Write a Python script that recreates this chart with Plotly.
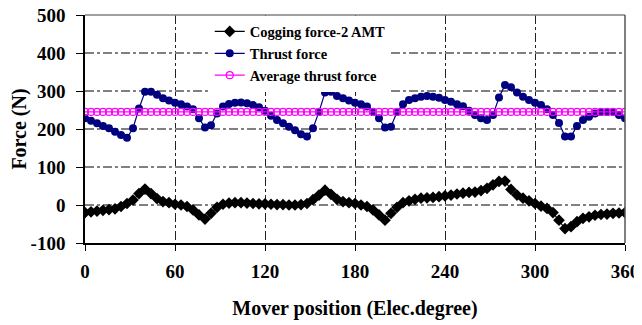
import plotly.graph_objects as go

positions = list(range(0, 361, 4))

cogging = [-20, -18, -16, -14, -12, -10, -4, 4, 13, 30, 42, 30, 17, 9, 6, 2, 0, -4, -13, -26, -37,
           -22, -6, 2, 5, 6, 6, 5, 4, 3, 3,
           2, 1, 1, 0, 0, 1, 4, 14, 26, 39, 28, 15, 9, 6, 4, 0, -4, -13, -26, -40,
           -22, -6, 6, 11, 15, 18, 19, 20, 22, 24,
           26, 29, 31, 33, 34, 38, 44, 53, 62, 63, 41, 26, 18, 11, 4, -3, -9, -20, -40, -62,
           -57, -44, -35, -31, -27, -25, -24, -22, -21, -20]

thrust = [228, 222, 215, 208, 202, 193, 184, 177, 202, 254, 298, 298, 290, 281, 275, 269, 265, 259, 252, 228, 204,
          210, 241, 259, 266, 269, 270, 268, 263, 257, 248,
          235, 224, 215, 206, 197, 186, 180, 202, 245, 296, 298, 287, 281, 275, 269, 265, 259, 245, 228, 204,
          206, 245, 265, 276, 281, 285, 287, 285, 282, 276,
          272, 265, 260, 248, 237, 228, 224, 237, 283, 316, 310, 296, 285, 276, 269, 263, 252, 237, 216, 180,
          180, 208, 224, 232, 241, 245, 245, 245, 237, 228]

average = [245] * len(positions)

names = ["Cogging force-2 AMT", "Thrust force", "Average thrust force"]
x_ticks = [0, 60, 120, 180, 240, 300, 360]
y_ticks = [-100, 0, 100, 200, 300, 400, 500]

FONT = "Liberation Serif, Times New Roman, serif"

fig = go.Figure()
fig.add_trace(go.Scatter(x=positions, y=cogging, name=names[0], mode="lines+markers",
                         line=dict(color="black", width=1.2),
                         marker=dict(symbol="diamond", size=9, color="black")))
fig.add_trace(go.Scatter(x=positions, y=thrust, name=names[1], mode="lines+markers",
                         line=dict(color="#000080", width=1.2),
                         marker=dict(symbol="circle", size=8, color="#000080")))
fig.add_trace(go.Scatter(x=positions, y=average, name=names[2], mode="lines+markers",
                         line=dict(color="#FF00FF", width=1.2),
                         marker=dict(symbol="circle-open", size=7, color="#FF00FF", line=dict(width=1.2))))

fig.update_layout(
    width=642, height=325,
    margin=dict(l=77, r=25, t=7, b=90, autoexpand=False),
    paper_bgcolor="white", plot_bgcolor="white",
    font=dict(family=FONT, size=19, color="black", weight="bold"),
    showlegend=True,
    legend=dict(x=0.231, y=0.9978, xanchor="left", yanchor="top",
                bgcolor="white", borderwidth=0, itemwidth=30,
                font=dict(family=FONT, size=14.5, color="black", weight="bold"),
                tracegroupgap=0),
    xaxis=dict(range=[0, 360], tickvals=x_ticks, ticktext=[str(v) for v in x_ticks],
               showline=True, linecolor="black", linewidth=1.5,
               ticks="outside", ticklen=6, tickcolor="black",
               ticklabelstandoff=4, ticklabeloverflow="allow",
               showgrid=True, gridcolor="#222222", gridwidth=1, griddash="dashdot",
               zeroline=False, automargin=False,
               tickfont=dict(family=FONT, size=19, weight="bold"),
               title=dict(text="Mover position (Elec.degree)", standoff=20,
                          font=dict(family=FONT, size=20, weight="bold"))),
    yaxis=dict(range=[-100, 500], tickvals=y_ticks, ticktext=[str(v) for v in y_ticks],
               showline=True, linecolor="black", linewidth=1.5,
               ticks="outside", ticklen=7, tickcolor="black",
               ticklabelstandoff=7, ticklabeloverflow="allow",
               showgrid=True, gridcolor="#808080", gridwidth=1.5, griddash="dashdot",
               zeroline=False, automargin=False,
               tickfont=dict(family=FONT, size=19, weight="bold"),
               title=dict(text="Force (N)", standoff=6,
                          font=dict(family=FONT, size=20, weight="bold"))),
    shapes=[
        dict(type="line", xref="paper", yref="paper", x0=0, x1=1, y0=1, y1=1,
             line=dict(color="#808080", width=1.5)),
        dict(type="line", xref="paper", yref="paper", x0=1, x1=1, y0=0, y1=1,
             line=dict(color="#555555", width=1.5)),
    ],
)

fig.write_html("out.html")
